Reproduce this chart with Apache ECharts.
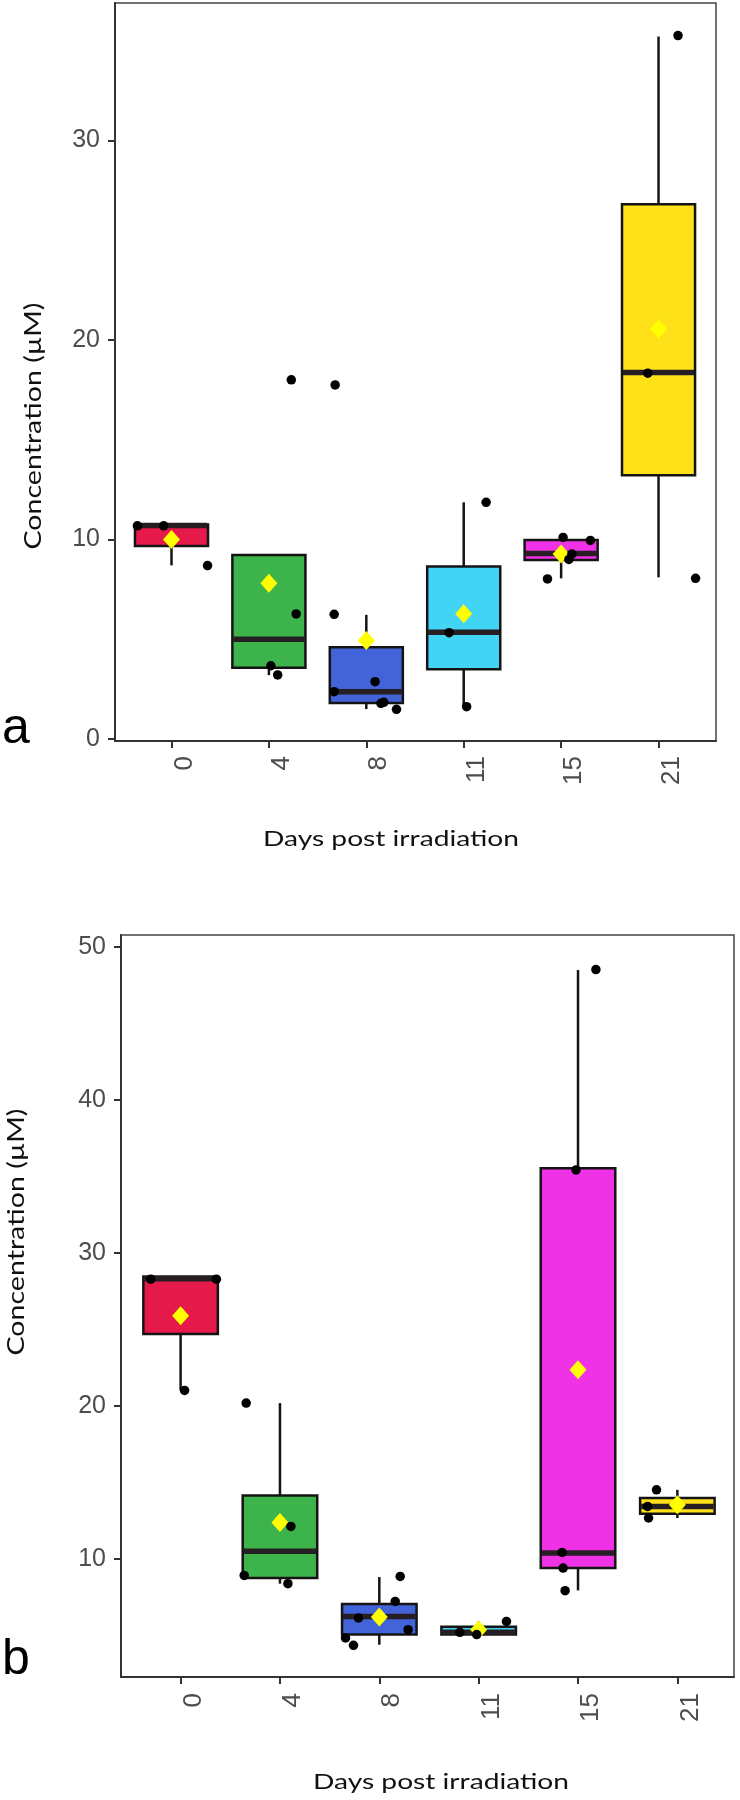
<!DOCTYPE html>
<html>
<head>
<meta charset="utf-8">
<script src="https://cdn.jsdelivr.net/npm/echarts@6/dist/echarts.min.js"></script>
<style>
html,body{margin:0;padding:0;background:#fff;}
#chart{width:740px;height:1800px;}
</style>
</head>
<body>
<div id="chart"></div>
<script>
// ---------- data ----------
const days = ['0', '4', '8', '11', '15', '21'];
const boxColors = ['#E6194B', '#3CB44B', '#4363D8', '#42D4F4', '#F032E6', '#FFE119'];

// panel a : [lower whisker, Q1, median, Q3, upper whisker]
const boxA = [
  [8.7, 9.67, 10.7, 10.75, 10.75],
  [3.2, 3.57, 5.0, 9.22, 9.22],
  [1.5, 1.8, 2.37, 4.6, 6.22],
  [1.62, 3.49, 5.35, 8.64, 11.86],
  [8.05, 8.97, 9.3, 9.97, 10.1],
  [8.1, 13.22, 18.36, 26.8, 35.2]
];
const meanA = [10.0, 7.8, 4.93, 6.28, 9.27, 20.55];
const pointsA = [
  [10.68, 10.68, 8.69],
  [18.0, 6.27, 3.67, 3.21],
  [17.74, 6.25, 2.87, 2.37, 1.79, 1.84, 1.49],
  [11.86, 5.33, 1.62],
  [10.1, 9.95, 9.27, 9.0, 8.02],
  [35.25, 18.33, 8.05]
];
const jitterA = [
  [-0.35, -0.08, 0.37],
  [0.23, 0.28, 0.02, 0.09],
  [-0.32, -0.33, 0.09, -0.33, 0.15, 0.18, 0.31],
  [0.23, -0.15, 0.03],
  [0.02, 0.30, 0.11, 0.08, -0.14],
  [0.20, -0.11, 0.38]
];
const ticksA = [0, 10, 20, 30];

// panel b
const boxB = [
  [21.0, 24.68, 28.3, 28.45, 28.45],
  [8.37, 8.74, 10.48, 14.13, 20.17],
  [4.38, 5.04, 6.23, 7.04, 8.8],
  [5.0, 5.05, 5.19, 5.55, 5.9],
  [7.93, 9.39, 10.37, 35.52, 48.47],
  [12.66, 12.94, 13.42, 13.96, 14.5]
];
const meanB = [25.87, 12.37, 6.19, 5.36, 22.35, 13.53];
const pointsB = [
  [28.27, 28.27, 21.0],
  [20.17, 12.11, 8.91, 8.37],
  [8.84, 7.21, 6.13, 5.36, 4.82, 4.34],
  [5.9, 5.19, 5.04],
  [48.5, 35.41, 10.41, 9.39, 7.91],
  [14.5, 13.42, 12.66]
];
const jitterB = [
  [-0.30, 0.36, 0.04],
  [-0.34, 0.11, -0.36, 0.08],
  [0.21, 0.16, -0.21, 0.29, -0.34, -0.26],
  [0.28, -0.19, -0.02],
  [0.18, -0.02, -0.16, -0.15, -0.13],
  [-0.21, -0.30, -0.29]
];
const ticksB = [10, 20, 30, 40, 50];

// ---------- helpers ----------
const catIdx = days.map((d, i) => i);
const labelFont = '"Liberation Sans", Arial, sans-serif';
const titleFont = 'Lato, "Open Sans", sans-serif';

function measure(text, font) {
  const c = document.createElement('canvas').getContext('2d');
  c.font = font;
  return c.measureText(text).width;
}

function renderBox(params, api) {
  const i = api.value(0);
  const lo = api.coord([i, api.value(1)]);
  const q1 = api.coord([i, api.value(2)]);
  const md = api.coord([i, api.value(3)]);
  const q3 = api.coord([i, api.value(4)]);
  const hi = api.coord([i, api.value(5)]);
  const w = api.size([0.75, 0])[0];
  const x = q1[0];
  const ls = {stroke: '#141414', lineWidth: 2.5};
  return {
    type: 'group',
    children: [
      {type: 'line', shape: {x1: x, y1: lo[1], x2: x, y2: q1[1]}, style: ls},
      {type: 'line', shape: {x1: x, y1: q3[1], x2: x, y2: hi[1]}, style: ls},
      {type: 'rect', shape: {x: x - w / 2, y: q3[1], width: w, height: q1[1] - q3[1]},
        style: {fill: boxColors[i], stroke: '#141414', lineWidth: 2.5}},
      {type: 'line', shape: {x1: x - w / 2 + 1, y1: md[1], x2: x + w / 2 - 1, y2: md[1]},
        style: {stroke: '#261e22', lineWidth: 5.5}}
    ]
  };
}

function buildPanel(idx, box, mean, pts, jit, xmin, xmax, ymin, ymax, yticks, labelMargin) {
  const xAxis = {
    gridIndex: idx, type: 'value', min: xmin, max: xmax,
    splitLine: {show: false},
    axisLine: {show: true, onZero: false, lineStyle: {color: '#333', width: 2}},
    axisTick: {show: true, customValues: catIdx, length: 7, lineStyle: {color: '#333', width: 2}},
    axisLabel: {
      customValues: catIdx, rotate: 90, verticalAlign: 'top',
      formatter: v => days[Math.round(v)],
      fontSize: 26, color: '#4D4D4D', fontFamily: labelFont, margin: labelMargin
    }
  };
  const yAxis = {
    gridIndex: idx, type: 'value', min: ymin, max: ymax,
    splitLine: {show: false},
    axisLine: {show: true, onZero: false, lineStyle: {color: '#333', width: 2}},
    axisTick: {show: true, customValues: yticks, length: 7, lineStyle: {color: '#333', width: 2}},
    axisLabel: {customValues: yticks, fontSize: 25, color: '#4D4D4D', fontFamily: labelFont, margin: 15}
  };
  const boxData = box.map((b, i) => [i].concat(b));
  const ptData = [];
  pts.forEach((arr, i) => arr.forEach((v, j) => ptData.push([i + jit[i][j], v])));
  const meanData = mean.map((m, i) => [i, m]);
  const series = [
    {type: 'custom', xAxisIndex: idx, yAxisIndex: idx, renderItem: renderBox,
      encode: {x: 0, y: [1, 2, 3, 4, 5]}, data: boxData, z: 2, silent: true},
    {type: 'scatter', xAxisIndex: idx, yAxisIndex: idx, data: meanData, symbol: 'diamond',
      symbolSize: [17, 19], itemStyle: {color: '#FFFF00', opacity: 1}, z: 3, silent: true},
    {type: 'scatter', xAxisIndex: idx, yAxisIndex: idx, data: ptData, symbol: 'circle',
      symbolSize: 9.5, itemStyle: {color: '#000', opacity: 1}, z: 4, silent: true}
  ];
  return {xAxis, yAxis, series};
}

const pa = buildPanel(0, boxA, meanA, pointsA, jitterA, -0.58, 5.59, -0.1, 36.88, ticksA, 15);
const pb = buildPanel(1, boxB, meanB, pointsB, jitterB, -0.6, 5.57, 2.27, 50.76, ticksB, 16);

// title text scaling to match reference widths
const xTitle = 'Days post irradiation';
const yTitle = 'Concentration (\u00b5M)';
const xTitleSize = 22, yTitleSize = 24;
const xScale = 256 / measure(xTitle, xTitleSize + 'px ' + titleFont);
const yScale = 247 / measure(yTitle, yTitleSize + 'px ' + titleFont);

function xTitleEl(cx, cy) {
  return {type: 'text', x: cx, y: cy, scaleX: xScale,
    style: {text: xTitle, fontSize: xTitleSize, fontFamily: titleFont, fill: '#111', align: 'center', verticalAlign: 'middle'}};
}
function yTitleEl(cx, cy) {
  return {type: 'text', x: cx, y: cy, rotation: Math.PI / 2, scaleX: yScale,
    style: {text: yTitle, fontSize: yTitleSize, fontFamily: titleFont, fill: '#111', align: 'center', verticalAlign: 'middle'}};
}

const chart = echarts.init(document.getElementById('chart'), null, {renderer: 'canvas'});
chart.setOption({
  animation: false,
  backgroundColor: '#fff',
  grid: [
    {left: 115, right: 24, top: 3, bottom: 1059, show: true, borderColor: '#444', borderWidth: 1.5},
    {left: 121, right: 6, top: 935, bottom: 123, show: true, borderColor: '#444', borderWidth: 1.5}
  ],
  xAxis: [pa.xAxis, pb.xAxis],
  yAxis: [pa.yAxis, pb.yAxis],
  series: pa.series.concat(pb.series),
  graphic: [
    {type: 'text', x: 2, y: 729, style: {text: 'a', fontSize: 50, fontFamily: labelFont, fill: '#000', verticalAlign: 'middle'}},
    {type: 'text', x: 2, y: 1660, style: {text: 'b', fontSize: 50, fontFamily: labelFont, fill: '#000', verticalAlign: 'middle'}},
    xTitleEl(391, 839),
    xTitleEl(441, 1782),
    yTitleEl(33.5, 426),
    yTitleEl(16.5, 1232)
  ]
});
</script>
</body>
</html>
